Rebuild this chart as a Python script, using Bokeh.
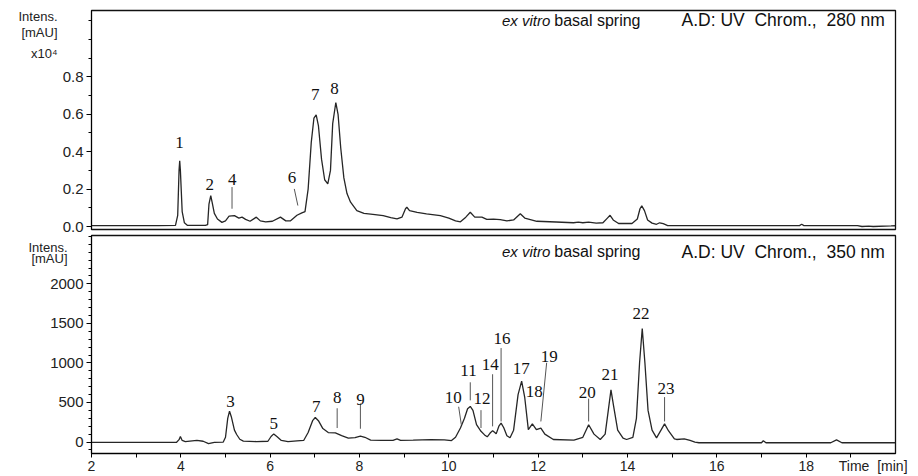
from bokeh.plotting import figure
from bokeh.layouts import column
from bokeh.models import FixedTicker, Range1d, PrintfTickFormatter, LinearAxis, Label
from bokeh.embed import file_html
from bokeh.resources import INLINE
from bokeh.core.properties import value

# ---------------- data: 280 nm trace (intensity in x10^4 mAU) ----------------
t280 = [2.0, 3.5, 3.88, 3.93, 3.96, 3.975, 3.99, 4.03, 4.08, 4.15, 4.55, 4.60, 4.63, 4.67, 4.70,
        4.75, 4.82, 4.92, 5.0, 5.08, 5.2, 5.3, 5.37, 5.45, 5.55, 5.69, 5.78, 5.9, 6.05, 6.23,
        6.35, 6.45, 6.6, 6.71, 6.78, 6.85, 6.92, 6.98, 7.03, 7.08, 7.15, 7.22, 7.29, 7.35, 7.40,
        7.47, 7.52, 7.58, 7.65, 7.72, 7.8, 7.94, 8.1, 8.3, 8.53, 8.7, 8.84, 8.95, 9.03, 9.06,
        9.12, 9.29, 9.5, 9.81, 10.0, 10.15, 10.26, 10.38, 10.48, 10.58, 10.74, 10.85, 11.0, 11.15,
        11.3, 11.45, 11.6, 11.7, 11.97, 12.4, 12.79, 12.9, 13.0, 13.13, 13.3, 13.45, 13.55, 13.61,
        13.68, 13.8, 14.1, 14.22, 14.28, 14.32, 14.38, 14.45, 14.55, 14.65, 14.72, 14.8, 14.9,
        17.85, 17.9, 17.95, 19.15, 19.25, 19.4, 19.5, 19.9, 20.0]
i280 = [0.005, 0.005, 0.006, 0.06, 0.30, 0.352, 0.30, 0.08, 0.02, 0.006, 0.006, 0.01, 0.12, 0.165, 0.13,
        0.07, 0.04, 0.022, 0.03, 0.055, 0.058, 0.045, 0.05, 0.038, 0.028, 0.05, 0.03, 0.025, 0.028, 0.05,
        0.03, 0.03, 0.06, 0.073, 0.08, 0.2, 0.45, 0.58, 0.597, 0.54, 0.36, 0.25, 0.228, 0.3, 0.55,
        0.663, 0.60, 0.42, 0.26, 0.176, 0.13, 0.085, 0.07, 0.065, 0.058, 0.048, 0.041, 0.05, 0.095, 0.103,
        0.085, 0.076, 0.068, 0.058, 0.045, 0.03, 0.025, 0.05, 0.076, 0.05, 0.05, 0.038, 0.04, 0.037,
        0.03, 0.035, 0.068, 0.045, 0.028, 0.024, 0.02, 0.023, 0.02, 0.023, 0.018, 0.02, 0.045, 0.06,
        0.035, 0.016, 0.016, 0.04, 0.095, 0.11, 0.085, 0.035, 0.018, 0.012, 0.02, 0.015, 0.005,
        0.005, 0.012, 0.005, 0.005, 0.0, 0.002, 0.0, 0.003, 0.004]

# ---------------- data: 350 nm trace (mAU) ----------------
t350 = [2.0, 3.9, 3.96, 3.99, 4.03, 4.1, 4.36, 4.5, 4.62, 4.75, 4.95, 5.0, 5.05, 5.09, 5.13,
        5.2, 5.25, 5.32, 5.4, 5.7, 5.95, 6.02, 6.08, 6.15, 6.25, 6.4, 6.6, 6.75, 6.85, 6.95,
        7.01, 7.08, 7.18, 7.3, 7.46, 7.6, 7.75, 7.9, 8.02, 8.12, 8.25, 8.5, 8.75, 8.84, 8.92,
        9.2, 9.6, 9.9, 10.06, 10.15, 10.26, 10.35, 10.42, 10.48, 10.54, 10.62, 10.72, 10.8, 10.86,
        10.92, 10.98, 11.03, 11.06, 11.12, 11.17, 11.23, 11.3, 11.37, 11.45, 11.55, 11.63, 11.7,
        11.78, 11.87, 11.96, 12.06, 12.15, 12.34, 12.8, 13.0, 13.13, 13.25, 13.39, 13.5, 13.57,
        13.63, 13.69, 13.78, 13.9, 13.98, 14.12, 14.2, 14.27, 14.33, 14.39, 14.46, 14.55, 14.65,
        14.75, 14.83, 14.92, 15.05, 15.1, 15.27, 15.4, 15.51, 15.6, 17.0, 17.04, 17.1, 18.55,
        18.68, 18.8, 20.0]
i350 = [-5, -5, 30, 70, 20, 5, 20, 10, -20, -5, 0, 60, 300, 390, 320,
        150, 95, 35, 12, 5, 10, 70, 103, 70, 20, 5, 15, 20, 120, 270,
        310, 270, 170, 120, 115, 80, 50, 55, 74, 60, 25, 20, 22, 40, 22,
        25, 30, 28, 18, 60, 177, 300, 420, 450, 400, 220, 136, 90, 66,
        110, 144, 120, 103, 200, 239, 180, 80, 53, 150, 600, 770, 560,
        156, 230, 156, 177, 100, 32, 25, 60, 218, 100, 32, 100, 400,
        660, 450, 150, 50, 32, 60, 300, 1000, 1436, 1000, 400, 150, 53,
        150, 230, 140, 40, 32, 40, 20, 0, -9, -9, 16, -9, -9,
        28, -9, -9]

# ---------------- peak labels ----------------
pk280_text = ["1", "2", "4", "6", "7", "8"]
pk280_t = [3.97, 4.65, 5.15, 6.49, 7.01, 7.44]
pk280_y = [0.45, 0.224, 0.254, 0.262, 0.704, 0.738]
ld280_t0 = [5.146, 6.54]
ld280_y0 = [0.211, 0.201]
ld280_t1 = [5.146, 6.62]
ld280_y1 = [0.095, 0.112]

pk350_text = ["3", "5", "7", "8", "9", "10", "11", "12", "14", "16", "17", "18", "19", "20", "21", "22", "23"]
pk350_t = [5.11, 6.08, 7.03, 7.50, 8.02, 10.10, 10.44, 10.74, 10.93, 11.19, 11.62, 11.91, 12.25, 13.10, 13.61, 14.30, 14.86]
pk350_y = [515, 239, 446, 557, 539, 569, 908, 548, 981, 1312, 928, 638, 1084, 631, 858, 1621, 672]
ld350_t0 = [7.50, 8.02, 10.22, 10.48, 10.72, 10.98, 11.17, 12.19, 13.13, 14.83]
ld350_y0 = [427, 488, 446, 755, 403, 857, 1188, 1002, 549, 568]
ld350_t1 = [7.50, 8.02, 10.28, 10.48, 10.72, 10.98, 11.17, 12.06, 13.13, 14.83]
ld350_y1 = [177, 168, 218, 527, 177, 198, 260, 260, 260, 260]

# ---------------- ticks / axis texts ----------------
NB = "\u00a0"
x_label_vals = [2, 4, 6, 8, 10, 12, 14, 16, 18, 19.5]
x_label_text = ["2", "4", "6", "8", "10", "12", "14", "16", "18", "Time" + NB + NB + "[min]"]
x_tick_marks = list(range(2, 20))
y280_major = [0.0, 0.2, 0.4, 0.6, 0.8]
y280_minor = [0.1, 0.3, 0.5, 0.7, 0.9, 1.0, 1.1]
y350_major = [0, 500, 1000, 1500, 2000]
y350_minor = [-100, 100, 200, 300, 400, 600, 700, 800, 900, 1100, 1200, 1300, 1400,
              1600, 1700, 1800, 1900, 2100, 2200, 2300, 2400, 2500, 2600]
unit280_pos = [1.121, 1.04, 0.925]
unit280_text = ["Intens.", "[mAU]", "x10\u2074"]
unit350_pos = [2460, 2322]
unit350_text = ["Intens.", "[mAU]"]
title_sample = ["ex vitro", "basal spring"]
title_280 = "A.D:" + NB + "UV" + NB + NB + "Chrom.," + NB + NB + "280" + NB + "nm"
title_350 = "A.D:" + NB + "UV" + NB + NB + "Chrom.," + NB + NB + "350" + NB + "nm"

LINE = "#262626"
TICKFONT = "Liberation Sans"
SERIF = "Liberation Serif"
W = 918
LEFT = 91
RIGHT = 23

xr = Range1d(2, 20)


def style_y(p, major, minor):
    ax = p.yaxis[0]
    ax.ticker = FixedTicker(ticks=major, minor_ticks=minor)
    ax.axis_line_color = "black"
    ax.major_tick_line_color = "black"
    ax.minor_tick_line_color = "black"
    ax.major_tick_in = 0
    ax.major_tick_out = 5
    ax.minor_tick_in = 0
    ax.minor_tick_out = 3
    ax.major_label_text_font = TICKFONT
    ax.major_label_text_font_size = "15px"
    ax.major_label_text_color = "#222222"
    ax.major_label_standoff = 3


def unit_axis(p, pos, txt, standoff):
    ax = LinearAxis(ticker=FixedTicker(ticks=pos, minor_ticks=[]),
                    major_label_overrides=dict(zip(pos, txt)))
    ax.axis_line_color = None
    ax.major_tick_line_color = None
    ax.minor_tick_line_color = None
    ax.major_tick_in = 0
    ax.major_tick_out = 0
    ax.minor_tick_out = 0
    ax.major_label_standoff = standoff
    ax.major_label_text_font = TICKFONT
    ax.major_label_text_font_size = "13px"
    ax.major_label_text_color = "#222222"
    p.add_layout(ax, "left")


def titles(p, y, title):
    p.add_layout(Label(x=11.19, y=y, text=title_sample[0], text_font_style="italic", text_font=TICKFONT,
                       text_font_size="15px", text_baseline="middle", text_color="#111111"))
    p.add_layout(Label(x=12.36, y=y, text=title_sample[1], text_font=TICKFONT,
                       text_font_size="16px", text_baseline="middle", text_color="#111111"))
    p.add_layout(Label(x=19.76, y=y, text=title, text_font=TICKFONT,
                       text_font_size="17.5px", text_baseline="middle", text_align="right",
                       text_color="#111111"))


# ---------------- top panel ----------------
p1 = figure(width=W, height=234, x_range=xr, y_range=Range1d(-0.016, 1.155),
            x_axis_location=None, output_backend="svg", toolbar_location=None,
            min_border_left=LEFT, min_border_right=RIGHT, min_border_top=10, min_border_bottom=5)
p1.grid.grid_line_color = None
p1.outline_line_color = "#111111"
p1.outline_line_width = 1.3
p1.outline_line_alpha = 1.0
style_y(p1, y280_major, y280_minor)
p1.yaxis[0].formatter = PrintfTickFormatter(format="%.1f")
unit_axis(p1, unit280_pos, unit280_text, 2)
p1.line(t280, i280, line_color=LINE, line_width=1.3)
p1.segment(x0=ld280_t0, y0=ld280_y0, x1=ld280_t1, y1=ld280_y1, line_color="#555555", line_width=1)
p1.text(x=pk280_t, y=pk280_y, text=pk280_text, text_font=value(SERIF), text_font_size="17px",
        text_align="center", text_baseline="middle", text_color="#111111")
titles(p1, 1.104, title_280)

# ---------------- bottom panel ----------------
p2 = figure(width=W, height=242, x_range=xr, y_range=Range1d(-145, 2611),
            output_backend="svg", toolbar_location=None,
            min_border_left=LEFT, min_border_right=RIGHT, min_border_top=1, min_border_bottom=0)
p2.grid.grid_line_color = None
p2.outline_line_color = "#111111"
p2.outline_line_width = 1.3
p2.outline_line_alpha = 1.0
style_y(p2, y350_major, y350_minor)
unit_axis(p2, unit350_pos, unit350_text, -20)

xa = p2.xaxis[0]
xa.ticker = FixedTicker(ticks=x_label_vals, minor_ticks=x_tick_marks)
xa.formatter = PrintfTickFormatter(format="%d")
xa.major_label_overrides = dict(zip(x_label_vals, x_label_text))
xa.axis_line_color = "black"
xa.major_tick_line_color = None
xa.minor_tick_line_color = "black"
xa.major_tick_in = 0
xa.major_tick_out = 0
xa.minor_tick_in = 0
xa.minor_tick_out = 4
xa.major_label_text_font = TICKFONT
xa.major_label_text_font_size = "14px"
xa.major_label_text_color = "#222222"
xa.major_label_standoff = 0
xa.axis_label_standoff = 0

p2.line(t350, i350, line_color=LINE, line_width=1.3)
p2.segment(x0=ld350_t0, y0=ld350_y0, x1=ld350_t1, y1=ld350_y1, line_color="#555555", line_width=1)
p2.text(x=pk350_t, y=pk350_y, text=pk350_text, text_font=value(SERIF), text_font_size="17px",
        text_align="center", text_baseline="middle", text_color="#111111")
titles(p2, 2405, title_350)

layout = column(p1, p2, spacing=0)
open("out.html", "w").write(file_html(layout, INLINE))
